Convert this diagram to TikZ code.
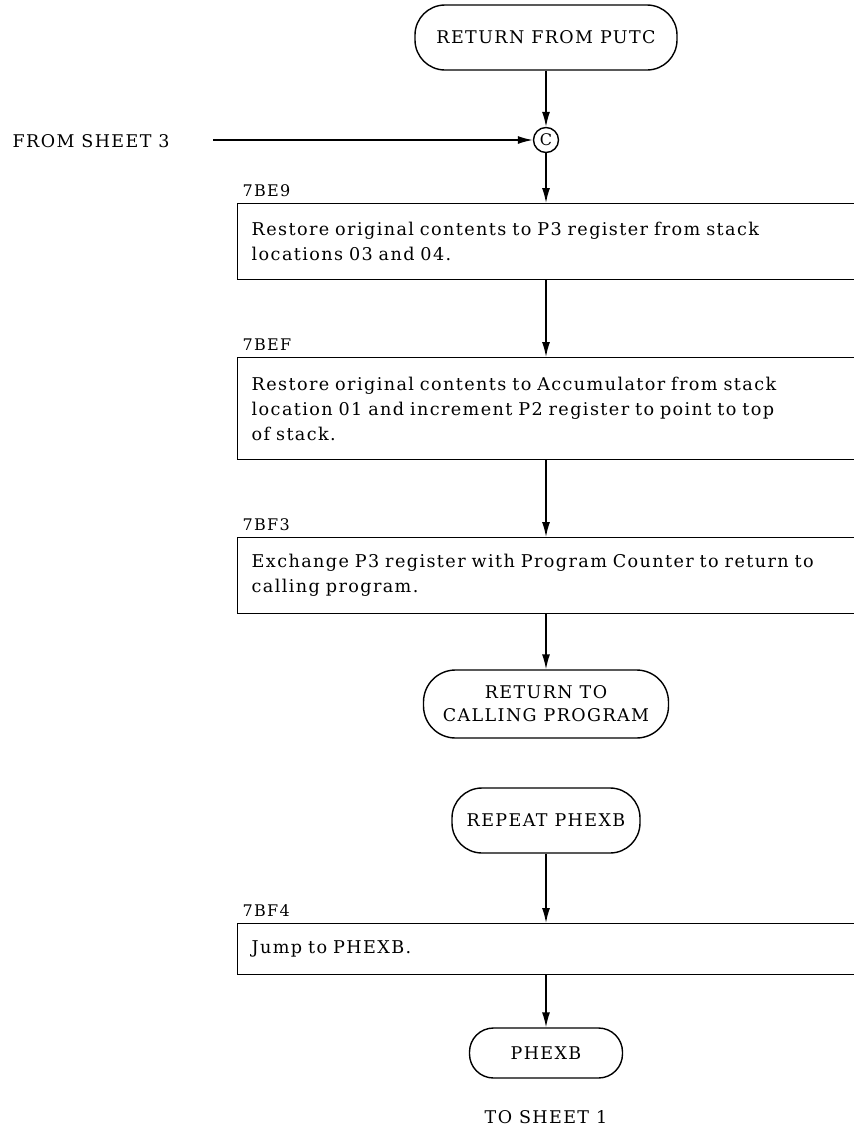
\documentclass[tikz,border=0pt]{standalone}
\usepackage{fontspec}
\setmainfont{DejaVu Serif}[LetterSpace=8]
\usetikzlibrary{arrows.meta}

\begin{document}
\begin{tikzpicture}[x=1pt,y=-1pt,
  line width=1.4pt,
  flow/.style={-{Latex[length=15pt,width=8pt]}},
  term/.style={draw, rectangle, inner sep=0pt, align=center,
    font=\fontsize{17.5}{23}\selectfont},
  stepbox/.style={draw, rectangle, anchor=north west, inner xsep=14pt, inner ysep=0pt,
    text width=632pt, align=left, font=\fontsize{17.6}{25}\selectfont},
  addr/.style={anchor=base west, inner sep=0pt, font=\fontsize{16}{18}\selectfont},
  note/.style={inner sep=0pt, font=\fontsize{17.5}{18}\selectfont}
]
\useasboundingbox (0,0) rectangle (854,1128);
\fill[white] (0,0) rectangle (854,1128);
\clip (0,0) rectangle (854,1128);

% entry point and connector
\node[term, rounded corners=30pt, minimum width=262pt, minimum height=65pt] (t1) at (546,37.5) {RETURN FROM PUTC};
\node[draw, circle, minimum size=25pt, inner sep=0pt, font=\fontsize{16}{18}\selectfont] (c) at (546,140) {C};
\node[note, anchor=west] (fs3) at (12,141) {FROM SHEET 3};
\coordinate (fs3end) at (213,140);

% processing steps
\node[stepbox, minimum height=76pt] (b1) at (237,203)
  {Restore original contents to P3 register from stack\\locations 03 and 04.};
\node[addr] (l1) at (242,196) {7BE9};

\node[stepbox, minimum height=102pt] (b2) at (237,357)
  {Restore original contents to Accumulator from stack\\location 01 and increment P2 register to point to top\\of stack.};
\node[addr] (l2) at (242,350) {7BEF};

\node[stepbox, minimum height=76pt] (b3) at (237,537)
  {Exchange P3 register with Program Counter to return to\\calling program.};
\node[addr] (l3) at (242,530) {7BF3};

\node[term, rounded corners=32pt, minimum width=245pt, minimum height=68pt] (t2) at (546,704) {RETURN TO\\CALLING PROGRAM};

% second entry
\node[term, rounded corners=30pt, minimum width=188pt, minimum height=65pt] (t3) at (546,820.5) {REPEAT PHEXB};

\node[stepbox, minimum height=51pt] (b4) at (237,923) {Jump to PHEXB.};
\node[addr] (l4) at (242,916) {7BF4};

\node[term, rounded corners=24pt, minimum width=153pt, minimum height=50pt] (t4) at (546,1053) {PHEXB};
\node[note] (ts1) at (546,1117) {TO SHEET 1};

% flow lines
\draw[flow] (t1) -- (c);
\draw[flow] (fs3end) -- (c.west);
\draw[flow] (c) -- (c |- b1.north);
\draw[flow] (c |- b1.south) -- (c |- b2.north);
\draw[flow] (c |- b2.south) -- (c |- b3.north);
\draw[flow] (c |- b3.south) -- (t2);
\draw[flow] (t3) -- (c |- b4.north);
\draw[flow] (c |- b4.south) -- (t4);
\end{tikzpicture}
\end{document}
